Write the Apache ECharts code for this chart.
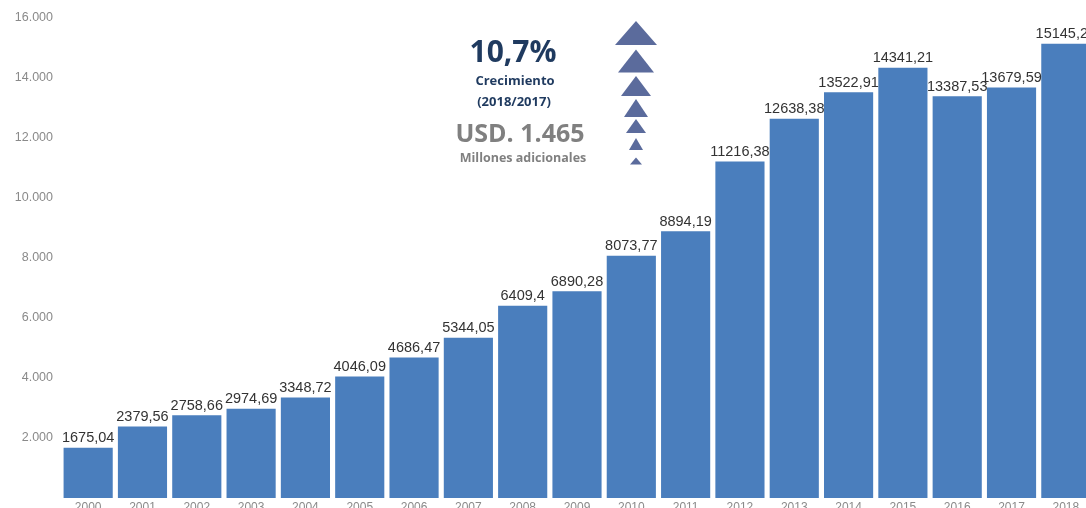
<!DOCTYPE html>
<html>
<head>
<meta charset="utf-8">
<script src="https://cdn.jsdelivr.net/npm/echarts@6/dist/echarts.min.js"></script>
<style>
  html, body { margin: 0; padding: 0; background: #fff; }
  #chart { width: 1086px; height: 508px; }
</style>
</head>
<body>
<div id="chart"></div>
<script>
const years = ['2000', '2001', '2002', '2003', '2004', '2005', '2006', '2007', '2008', '2009',
  '2010', '2011', '2012', '2013', '2014', '2015', '2016', '2017', '2018']
const values = [1675.04, 2379.56, 2758.66, 2974.69, 3348.72, 4046.09, 4686.47, 5344.05, 6409.4, 6890.28,
  8073.77, 8894.19, 11216.38, 12638.38, 13522.91, 14341.21, 13387.53, 13679.59, 15145.26]
const yTicks = [0, 2000, 4000, 6000, 8000, 10000, 12000, 14000, 16000]

// growth arrows, biggest on top: [center y, half width, height]
const arrows = [
  [33, 21, 24], [61, 18, 23], [86, 15, 20], [108, 12, 18],
  [126, 10, 14], [144, 7, 12], [161, 6, 7]
]

const chart = echarts.init(document.getElementById('chart'))

const fmtThousands = (v) => String(v).replace(/\B(?=(\d{3})+(?!\d))/g, '.')

chart.setOption({
  animation: false,
  grid: { left: 61, top: 18, width: 1032, bottom: 10, outerBoundsMode: 'none', containLabel: false },
  xAxis: {
    type: 'category',
    data: years,
    axisLine: { show: false },
    axisTick: { show: false },
    axisLabel: { color: '#8a8a8a', fontSize: 12, margin: 4, fontFamily: 'Liberation Sans' }
  },
  yAxis: {
    type: 'value',
    min: yTicks[0],
    max: yTicks[yTicks.length - 1],
    interval: 2000,
    splitLine: { show: false },
    axisLine: { show: false },
    axisTick: { show: false },
    axisLabel: {
      color: '#8a8a8a',
      fontSize: 12.5,
      margin: 8,
      fontFamily: 'Liberation Sans',
      formatter: (v) => (v === 0 ? '' : fmtThousands(v))
    }
  },
  series: [
    {
      type: 'bar',
      data: values,
      barCategoryGap: '9.5%',
      itemStyle: { color: '#4a7ebd' },
      label: {
        show: true,
        position: 'top',
        distance: 2,
        color: '#333',
        fontSize: 14.5,
        fontFamily: 'Liberation Sans',
        formatter: (p) => String(p.value).replace('.', ',')
      }
    }
  ],
  graphic: [
    { type: 'text', x: 513, y: 38, style: { text: '10,7%', fill: '#1f3a5f', font: 'bold 30px "Open Sans"', textAlign: 'center' } },
    { type: 'text', x: 515, y: 75, style: { text: 'Crecimiento', fill: '#1f3a5f', font: 'bold 13px "Open Sans"', textAlign: 'center' } },
    { type: 'text', x: 514, y: 96, style: { text: '(2018/2017)', fill: '#1f3a5f', font: 'bold 13px "Open Sans"', textAlign: 'center' } },
    { type: 'text', x: 520, y: 122, style: { text: 'USD. 1.465', fill: '#808080', font: 'bold 25px "Open Sans"', textAlign: 'center' } },
    { type: 'text', x: 523, y: 152, style: { text: 'Millones adicionales', fill: '#808080', font: 'bold 12.5px "Open Sans"', textAlign: 'center' } }
  ].concat(arrows.map(([cy, hw, h]) => ({
    type: 'polygon',
    shape: { points: [[636, cy - h / 2], [636 + hw, cy + h / 2], [636 - hw, cy + h / 2]] },
    style: { fill: '#5b6b9c' }
  })))
})
</script>
</body>
</html>
